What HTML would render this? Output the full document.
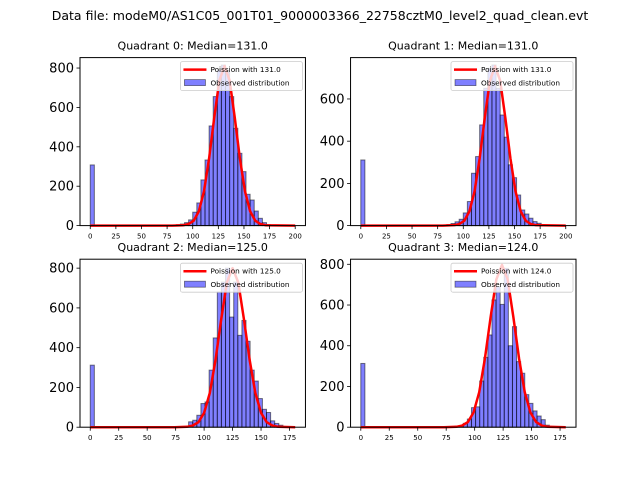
<!DOCTYPE html>
<html><head><meta charset="utf-8"><style>
body{margin:0;background:#fff;}
svg text{font-family:"DejaVu Sans","Liberation Sans",sans-serif;}
</style></head><body>
<svg id="fig" width="640" height="480" viewBox="0 0 640 480" xmlns="http://www.w3.org/2000/svg">
<rect width="640" height="480" fill="#fff"/>
<text x="320" y="20" text-anchor="middle" font-size="12.5">Data file: modeM0/AS1C05_001T01_9000003366_22758cztM0_level2_quad_clean.evt</text>
</svg>
<script>
// Quadrant 0
const q0Counts = [308,0,0,0,0,0,0,0,0,0,0,0,0,0,0,0,0,0,0,0,3,5,8,15,29,68,115,232,333,506,655,790,815,780,655,494,367,274,159,130,74,37,15,5,0,0,0,0,0,0];
const q0CurveX = [0,80,91,96,101,106,111,116,121,126,131,136,141,146,151,156,161,166,171,200];
const q0CurveY = [0,0,2,8,25,73,174,342,549,737,810,737,549,342,174,73,25,8,2,0];
// Quadrant 1
const q1Counts = [311,0,0,0,0,0,0,0,0,0,0,0,0,0,0,0,0,0,0,0,0,5,10,18,30,60,114,248,327,477,651,745,761,651,524,419,288,227,145,74,55,35,19,11,3,0,0,0,0,0];
const q1CurveX = [0,80,91,96,101,106,111,116,121,126,131,136,141,146,151,156,161,166,171,200];
const q1CurveY = [0,0,2,7,23,68,162,319,512,687,755,687,512,319,162,68,23,7,2,0];
// Quadrant 2
const q2Counts = [312,0,0,0,0,0,0,0,0,0,0,0,0,0,0,0,0,0,0,0,0,0,0,0,27,35,60,119,127,287,449,680,730,800,554,730,462,537,432,287,232,144,90,74,32,19,10,0,0,0];
const q2CurveX = [0,74,85,90,95,100,105,110,115,120,125,130,135,140,145,150,155,160,165,180];
const q2CurveY = [0,0,2,8,25,72,172,338,542,728,800,728,542,338,172,72,25,8,2,0];
// Quadrant 3
const q3Counts = [313,0,0,0,0,0,0,0,0,0,0,0,0,0,0,0,0,0,0,0,0,3,3,5,8,19,40,96,100,227,343,453,625,690,603,780,400,494,322,265,160,117,80,55,37,10,0,0,0,0];
const q3CurveX = [0,73,84,89,94,99,104,109,114,119,124,129,134,139,144,149,154,159,164,180];
const q3CurveY = [0,0,2,8,25,72,172,337,540,725,797,725,540,337,172,72,25,8,2,0];

const titles = ["Quadrant 0: Median=131.0","Quadrant 1: Median=131.0","Quadrant 2: Median=125.0","Quadrant 3: Median=124.0"];
const legendLabels = ["Poission with 131.0","Poission with 131.0","Poission with 125.0","Poission with 124.0"];
const xTicks0 = [0,25,50,75,100,125,150,175,200];
const xTicks2 = [0,25,50,75,100,125,150,175];
const yTicks0 = [0,200,400,600,800];
const yTicks1 = [0,200,400,600];

const NS="http://www.w3.org/2000/svg";
const svg=document.getElementById('fig');
function mk(tag,attrs,parent){const e=document.createElementNS(NS,tag);for(const k in attrs)e.setAttribute(k,attrs[k]);(parent||svg).appendChild(e);return e;}

const panels=[
 {counts:q0Counts,cx:q0CurveX,cy:q0CurveY,xmax:200,ymax:853,xt:xTicks0,yt:yTicks0,L:80,T:57.6},
 {counts:q1Counts,cx:q1CurveX,cy:q1CurveY,xmax:200,ymax:796,xt:xTicks0,yt:yTicks1,L:350.55,T:57.6},
 {counts:q2Counts,cx:q2CurveX,cy:q2CurveY,xmax:180,ymax:845,xt:xTicks2,yt:yTicks0,L:80,T:259.2},
 {counts:q3Counts,cx:q3CurveX,cy:q3CurveY,xmax:180,ymax:825,xt:xTicks2,yt:yTicks0,L:350.55,T:259.2}
];
const W=225.45,H=168;
panels.forEach((p,i)=>{
 const g=mk('g',{});
 
 
 const pad=p.xmax*0.05, x0=-pad, x1=p.xmax+pad;
 const sx=v=>p.L+(v-x0)/(x1-x0)*W;
 const sy=v=>p.T+H-v/p.ymax*H;
 const bw=p.xmax/p.counts.length;
 p.counts.forEach((c,k)=>{
  if(c<=0)return;
  const r=mk('rect',{x:sx(k*bw),y:sy(c),width:sx((k+1)*bw)-sx(k*bw),height:sy(0)-sy(c),fill:'rgba(0,0,255,0.5)',stroke:'rgba(0,0,0,0.5)','stroke-width':1},g);
  
  
 });
 const pts=p.cx.map((x,j)=>sx(x).toFixed(2)+','+sy(p.cy[j]).toFixed(2)).join(' ');
 const pl=mk('polyline',{points:pts,fill:'none',stroke:'#ff0000','stroke-width':2.5,'stroke-linejoin':'round'},g);
 
 
 const fr=mk('rect',{x:p.L,y:p.T,width:W,height:H,fill:'none',stroke:'#000','stroke-width':1},g);
 
 
 p.xt.forEach(t=>{
  mk('line',{x1:sx(t),x2:sx(t),y1:p.T+H,y2:p.T+H+3.5,stroke:'#000','stroke-width':0.8},g);
  const tx=mk('text',{x:sx(t),y:p.T+H+13,'text-anchor':'middle','font-size':7},g);
  tx.textContent=t;
  
  
 });
 p.yt.forEach(t=>{
  mk('line',{x1:p.L,x2:p.L-3.5,y1:sy(t),y2:sy(t),stroke:'#000','stroke-width':0.8},g);
  const ty=mk('text',{x:p.L-6,y:sy(t)+4.5,'text-anchor':'end','font-size':13},g);
  ty.textContent=t;
  
  
 });
 const tt=mk('text',{x:p.L+W/2,y:p.T-8,'text-anchor':'middle','font-size':11},g);
 tt.textContent=titles[i];
 
 
 const lg=mk('g',{},g);
 
 
 const lx=p.L+W-125, ly=p.T+4;
 mk('rect',{x:lx,y:ly,width:122,height:29,fill:'rgba(255,255,255,0.8)',stroke:'#ccc','stroke-width':0.8,rx:2},lg);
 mk('line',{x1:lx+3,x2:lx+26,y1:ly+8,y2:ly+8,stroke:'#ff0000','stroke-width':2.5},lg);
 const t1=mk('text',{x:lx+30,y:ly+10.5,'font-size':7.3},lg);
 t1.textContent=legendLabels[i];
 
 
 mk('rect',{x:lx+4,y:ly+18,width:21,height:6,fill:'rgba(0,0,255,0.5)',stroke:'rgba(0,0,0,0.5)','stroke-width':0.8},lg);
 const t2=mk('text',{x:lx+30,y:ly+24,'font-size':7.3},lg);
 t2.textContent='Observed distribution';
 
 
});
</script>
</body></html>
